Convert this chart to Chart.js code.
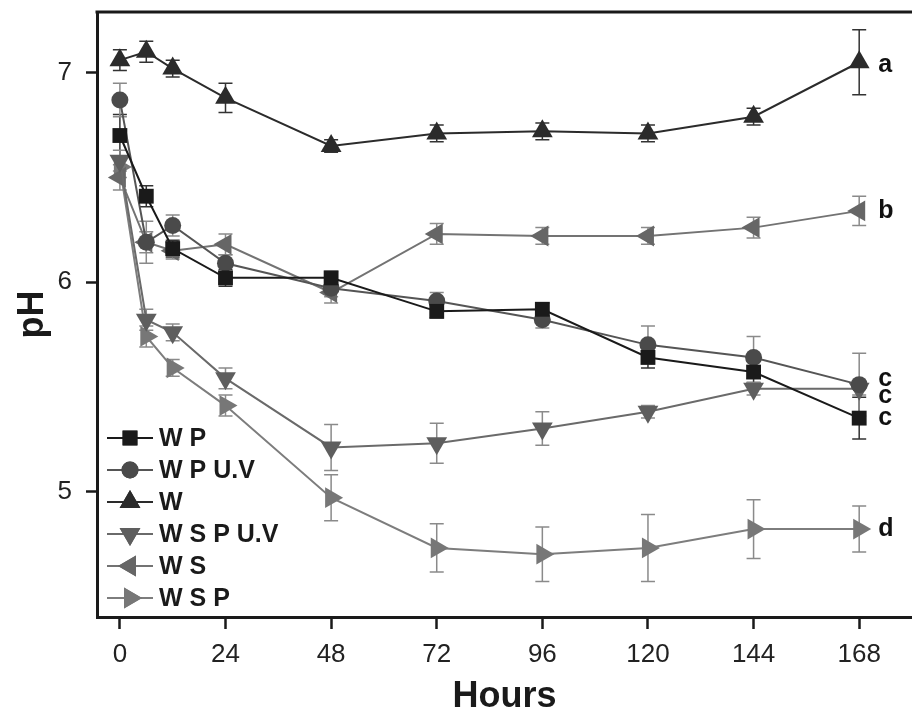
<!DOCTYPE html>
<html>
<head>
<meta charset="utf-8">
<script src="https://cdn.jsdelivr.net/npm/chart.js@4/dist/chart.umd.min.js"></script>
<style>
  html, body { margin: 0; padding: 0; background: #fff; }
  #wrap { width: 912px; height: 715px; }
</style>
</head>
<body>
<div id="wrap"><canvas id="c" width="912" height="715"></canvas></div>
<script>
// sampling times (h) and tick labels
const hours = [0, 6, 12, 24, 48, 72, 96, 120, 144, 168];
const xTicks = [0, 24, 48, 72, 96, 120, 144, 168];
const yTicks = [5, 6, 7];

// pH means
const wp    = [6.70, 6.41, 6.16, 6.02, 6.02, 5.86, 5.87, 5.64, 5.57, 5.35];
const wpuv  = [6.87, 6.19, 6.27, 6.09, 5.97, 5.91, 5.82, 5.70, 5.64, 5.51];
const w     = [7.06, 7.10, 7.02, 6.88, 6.65, 6.71, 6.72, 6.71, 6.79, 7.05];
const wspuv = [6.58, 5.82, 5.76, 5.54, 5.21, 5.23, 5.30, 5.38, 5.49, 5.49];
const ws    = [6.50, 6.19, 6.15, 6.18, 5.95, 6.23, 6.22, 6.22, 6.26, 6.34];
const wsp   = [6.55, 5.74, 5.59, 5.41, 4.97, 4.73, 4.70, 4.73, 4.82, 4.82];

// error bars (+/-)
const wpErr    = [0.10, 0.05, 0.04, 0.04, 0.03, 0.03, 0.03, 0.05, 0.05, 0.10];
const wpuvErr  = [0.08, 0.05, 0.05, 0.04, 0.04, 0.04, 0.04, 0.09, 0.10, 0.15];
const wErr     = [0.05, 0.05, 0.04, 0.07, 0.03, 0.04, 0.04, 0.04, 0.04, 0.155];
const wspuvErr = [0.05, 0.05, 0.04, 0.05, 0.11, 0.095, 0.08, 0.03, 0.03, 0.03];
const wsErr    = [0.06, 0.10, 0.04, 0.05, 0.05, 0.05, 0.04, 0.04, 0.05, 0.07];
const wspErr   = [0.05, 0.05, 0.04, 0.05, 0.11, 0.115, 0.13, 0.16, 0.14, 0.11];

// significance letters at the end of each line
const names   = ['W P', 'W P U.V', 'W', 'W S P U.V', 'W S', 'W S P'];
const letters = ['c', 'c', 'a', 'c', 'b', 'd'];

const FONT = '"Liberation Sans", Arial, Helvetica, sans-serif';

const mk = (label, vals, errs, color, lineColor, style, rot, r, letter, dy) => ({
  label,
  data: hours.map((h, i) => ({ x: h, y: vals[i] })),
  errs,
  letter,
  letterDy: dy,
  borderColor: lineColor,
  backgroundColor: color,
  borderWidth: 2,
  pointStyle: style,
  pointRotation: rot,
  pointRadius: r,
  pointHoverRadius: r,
  pointBorderWidth: 0,
  pointBackgroundColor: color,
  tension: 0,
});

const datasets = [
  mk(names[0], wp,    wpErr,    '#1a1a1a', '#1a1a1a', 'rect',     0,   10.5, letters[0], 0),
  mk(names[1], wpuv,  wpuvErr,  '#4a4a4a', '#555555', 'circle',   0,   8.5,  letters[1], -6),
  mk(names[2], w,     wErr,     '#2b2b2b', '#2b2b2b', 'triangle', 0,   12,   letters[2], 3),
  mk(names[3], wspuv, wspuvErr, '#5e5e5e', '#6a6a6a', 'triangle', 180, 12,   letters[3], 7),
  mk(names[4], ws,    wsErr,    '#666666', '#737373', 'triangle', -90, 12,   letters[4], 0),
  mk(names[5], wsp,   wspErr,   '#777777', '#7d7d7d', 'triangle', 90,  12,   letters[5], 0),
];

const errorBars = {
  id: 'errorBars',
  beforeDatasetsDraw(chart) {
    const ctx = chart.ctx, ys = chart.scales.y;
    ctx.save();
    chart.data.datasets.forEach((ds, di) => {
      const meta = chart.getDatasetMeta(di);
      ctx.strokeStyle = di === 0 || di === 2 ? '#333' : '#8a8a8a';
      ctx.lineWidth = 1.5;
      meta.data.forEach((pt, i) => {
        const v = ds.data[i].y, e = ds.errs[i];
        const top = ys.getPixelForValue(v + e), bot = ys.getPixelForValue(v - e);
        ctx.beginPath();
        ctx.moveTo(pt.x, top); ctx.lineTo(pt.x, bot);
        ctx.moveTo(pt.x - 7, top); ctx.lineTo(pt.x + 7, top);
        ctx.moveTo(pt.x - 7, bot); ctx.lineTo(pt.x + 7, bot);
        ctx.stroke();
      });
    });
    ctx.restore();
  }
};

const extras = {
  id: 'extras',
  afterDraw(chart) {
    const ctx = chart.ctx, a = chart.chartArea;
    ctx.save();
    // top frame line
    ctx.strokeStyle = '#1a1a1a';
    ctx.lineWidth = 3;
    ctx.beginPath();
    ctx.moveTo(a.left - 1.5, a.top);
    ctx.lineTo(a.right, a.top);
    ctx.stroke();

    // letters
    ctx.fillStyle = '#111';
    ctx.font = 'bold 25px ' + FONT;
    ctx.textBaseline = 'middle';
    ctx.textAlign = 'left';
    chart.data.datasets.forEach((ds, di) => {
      const meta = chart.getDatasetMeta(di);
      const last = meta.data[meta.data.length - 1];
      ctx.fillText(ds.letter, last.x + 19, last.y + ds.letterDy);
    });

    // legend, inside lower left
    const x0 = a.left + 10, x1 = a.left + 56;
    chart.data.datasets.forEach((ds, di) => {
      const y = 438 + di * 32;
      ctx.strokeStyle = ds.borderColor;
      ctx.lineWidth = 2;
      ctx.beginPath();
      ctx.moveTo(x0, y); ctx.lineTo(x1, y);
      ctx.stroke();
      ctx.fillStyle = ds.pointBackgroundColor;
      Chart.helpers.drawPoint(ctx, {
        pointStyle: ds.pointStyle, rotation: ds.pointRotation,
        radius: ds.pointRadius, borderWidth: 0
      }, (x0 + x1) / 2, y);
      ctx.fill();
      ctx.fillStyle = '#1a1a1a';
      ctx.font = 'bold 25px ' + FONT;
      ctx.fillText(ds.label, x1 + 6, y + 1);
    });
    ctx.restore();
  }
};

const noPad = s => { s.paddingTop = 0; s.paddingBottom = 0; s.paddingLeft = 0; s.paddingRight = 0; };

new Chart(document.getElementById('c'), {
  type: 'line',
  data: { datasets },
  plugins: [errorBars, extras],
  options: {
    responsive: false,
    animation: false,
    events: [],
    layout: { autoPadding: false, padding: { top: 12, right: 0, left: 0, bottom: 0 } },
    plugins: { legend: { display: false }, tooltip: { enabled: false } },
    scales: {
      x: {
        type: 'linear',
        min: -5.2,
        max: 180,
        afterBuildTicks: s => { s.ticks = xTicks.map(v => ({ value: v })); },
        afterFit: s => { s.height = 98; noPad(s); },
        grid: { drawOnChartArea: false, drawTicks: true, tickLength: 12, tickWidth: 2.5, tickColor: '#1a1a1a' },
        border: { display: true, color: '#1a1a1a', width: 3 },
        ticks: { color: '#222', padding: 10, maxRotation: 0, autoSkip: false, font: { family: FONT, size: 26 } },
        title: { display: true, text: 'Hours', color: '#1a1a1a', font: { family: FONT, size: 36, weight: 'bold', lineHeight: 1 }, padding: { top: 0, bottom: 0 } }
      },
      y: {
        type: 'linear',
        min: 4.4,
        max: 7.29,
        afterBuildTicks: s => { s.ticks = yTicks.map(v => ({ value: v })); },
        afterFit: s => { s.width = 97; noPad(s); },
        grid: { drawOnChartArea: false, drawTicks: true, tickLength: 11, tickWidth: 2.5, tickColor: '#1a1a1a' },
        border: { display: true, color: '#1a1a1a', width: 3 },
        ticks: { color: '#222', padding: 14, font: { family: FONT, size: 26 } },
        title: { display: true, text: 'pH', color: '#1a1a1a', font: { family: FONT, size: 36, weight: 'bold', lineHeight: 1 }, padding: { top: 15, bottom: 0 } }
      }
    }
  }
});
</script>
</body>
</html>
